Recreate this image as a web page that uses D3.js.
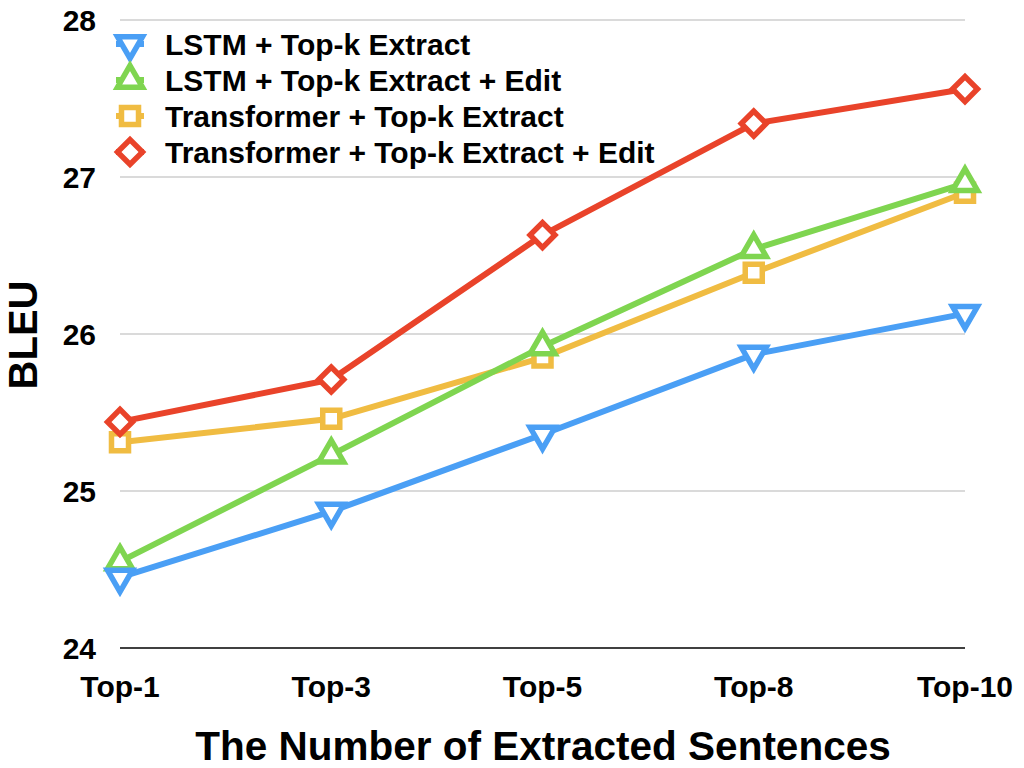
<!DOCTYPE html>
<html>
<head>
<meta charset="utf-8">
<script src="https://cdn.jsdelivr.net/npm/d3@7"></script>
<style>
  body { margin: 0; background: #fff; }
  text { font-family: "Liberation Sans", Arial, Helvetica, sans-serif; font-weight: bold; fill: #000; }
</style>
</head>
<body>
<div id="chart"></div>
<script>
// categories on the x axis
const categories = ["Top-1", "Top-3", "Top-5", "Top-8", "Top-10"];
const yTicks = [24, 25, 26, 27, 28];

// BLEU values
const lstmExtract = [24.45, 24.87, 25.36, 25.87, 26.13];
const lstmExtractEdit = [24.55, 25.23, 25.92, 26.54, 26.96];
const transExtract = [25.31, 25.46, 25.85, 26.39, 26.90];
const transExtractEdit = [25.44, 25.71, 26.63, 27.34, 27.56];

const seriesNames = [
  "LSTM + Top-k Extract",
  "LSTM + Top-k Extract + Edit",
  "Transformer + Top-k Extract",
  "Transformer + Top-k Extract + Edit"
];

const series = [
  { name: seriesNames[0], values: lstmExtract, color: "#4a9ff5", symbol: "down" },
  { name: seriesNames[1], values: lstmExtractEdit, color: "#7fd550", symbol: "up" },
  { name: seriesNames[2], values: transExtract, color: "#f0bc42", symbol: "square" },
  { name: seriesNames[3], values: transExtractEdit, color: "#e9432a", symbol: "diamond" }
];

const width = 1024, height = 768;

const svg = d3.select("#chart")
  .append("svg")
    .attr("width", width)
    .attr("height", height);

const x = d3.scalePoint()
  .domain(categories)
  .range([120, 965]);

const y = d3.scaleLinear()
  .domain([24, 28])
  .range([648, 20]);

// gridlines
svg.append("g")
  .selectAll("line")
  .data(yTicks)
  .join("line")
    .attr("x1", x.range()[0])
    .attr("x2", x.range()[1])
    .attr("y1", d => y(d))
    .attr("y2", d => y(d))
    .attr("stroke", d => d === 24 ? "#000" : "#b5b5b5")
    .attr("stroke-width", d => d === 24 ? 1.5 : 1.2);

// y tick labels
svg.append("g")
  .selectAll("text")
  .data(yTicks)
  .join("text")
    .attr("x", 96)
    .attr("y", d => y(d) + 11)
    .attr("text-anchor", "end")
    .style("font-size", "30px")
    .text(d => d);

// x tick labels
svg.append("g")
  .selectAll("text")
  .data(categories)
  .join("text")
    .attr("x", d => x(d))
    .attr("y", 697)
    .attr("text-anchor", "middle")
    .style("font-size", "30px")
    .text(d => d);

// axis titles
svg.append("text")
  .attr("x", 543)
  .attr("y", 760)
  .attr("text-anchor", "middle")
  .style("font-size", "40.5px")
  .text("The Number of Extracted Sentences");

svg.append("text")
  .attr("transform", "translate(37,335) rotate(-90)")
  .attr("text-anchor", "middle")
  .style("font-size", "40px")
  .text("BLEU");

function symbolPath(kind) {
  if (kind === "square") return d3.symbol(d3.symbolSquare, 290)();
  if (kind === "diamond") return d3.symbol(d3.symbolSquare, 310)();
  return d3.symbol(d3.symbolTriangle, 270)();
}
function symbolRotate(kind) {
  if (kind === "down") return 180;
  if (kind === "diamond") return 45;
  return 0;
}

const line = d3.line()
  .x((d, i) => x(categories[i]))
  .y(d => y(d));

// draw order as in the picture
const drawOrder = [2, 1, 0, 3];

drawOrder.forEach(k => {
  const s = series[k];
  const g = svg.append("g");
  g.append("path")
    .datum(s.values)
    .attr("fill", "none")
    .attr("stroke", s.color)
    .attr("stroke-width", 6)
    .attr("stroke-linejoin", "round")
    .attr("d", line);

  g.selectAll("path.mark")
    .data(s.values)
    .join("path")
      .attr("class", "mark")
      .attr("transform", (d, i) => `translate(${x(categories[i])},${y(d)}) rotate(${symbolRotate(s.symbol)})`)
      .attr("d", symbolPath(s.symbol))
      .attr("fill", "#fff")
      .attr("stroke", s.color)
      .attr("stroke-width", 5.5);
});

// legend
const legendRows = [44, 80, 116, 152];
const legend = svg.append("g");
series.forEach((s, i) => {
  const row = legend.append("g").attr("transform", `translate(130,${legendRows[i]})`);
  row.append("line")
    .attr("x1", -14).attr("x2", 14)
    .attr("stroke", s.color)
    .attr("stroke-width", 6);
  row.append("path")
    .attr("d", symbolPath(s.symbol))
    .attr("transform", `rotate(${symbolRotate(s.symbol)})`)
    .attr("fill", "#fff")
    .attr("stroke", s.color)
    .attr("stroke-width", 5.5);
  row.append("text")
    .attr("x", 35)
    .attr("y", 11)
    .style("font-size", "30px")
    .text(s.name);
});
</script>
</body>
</html>
